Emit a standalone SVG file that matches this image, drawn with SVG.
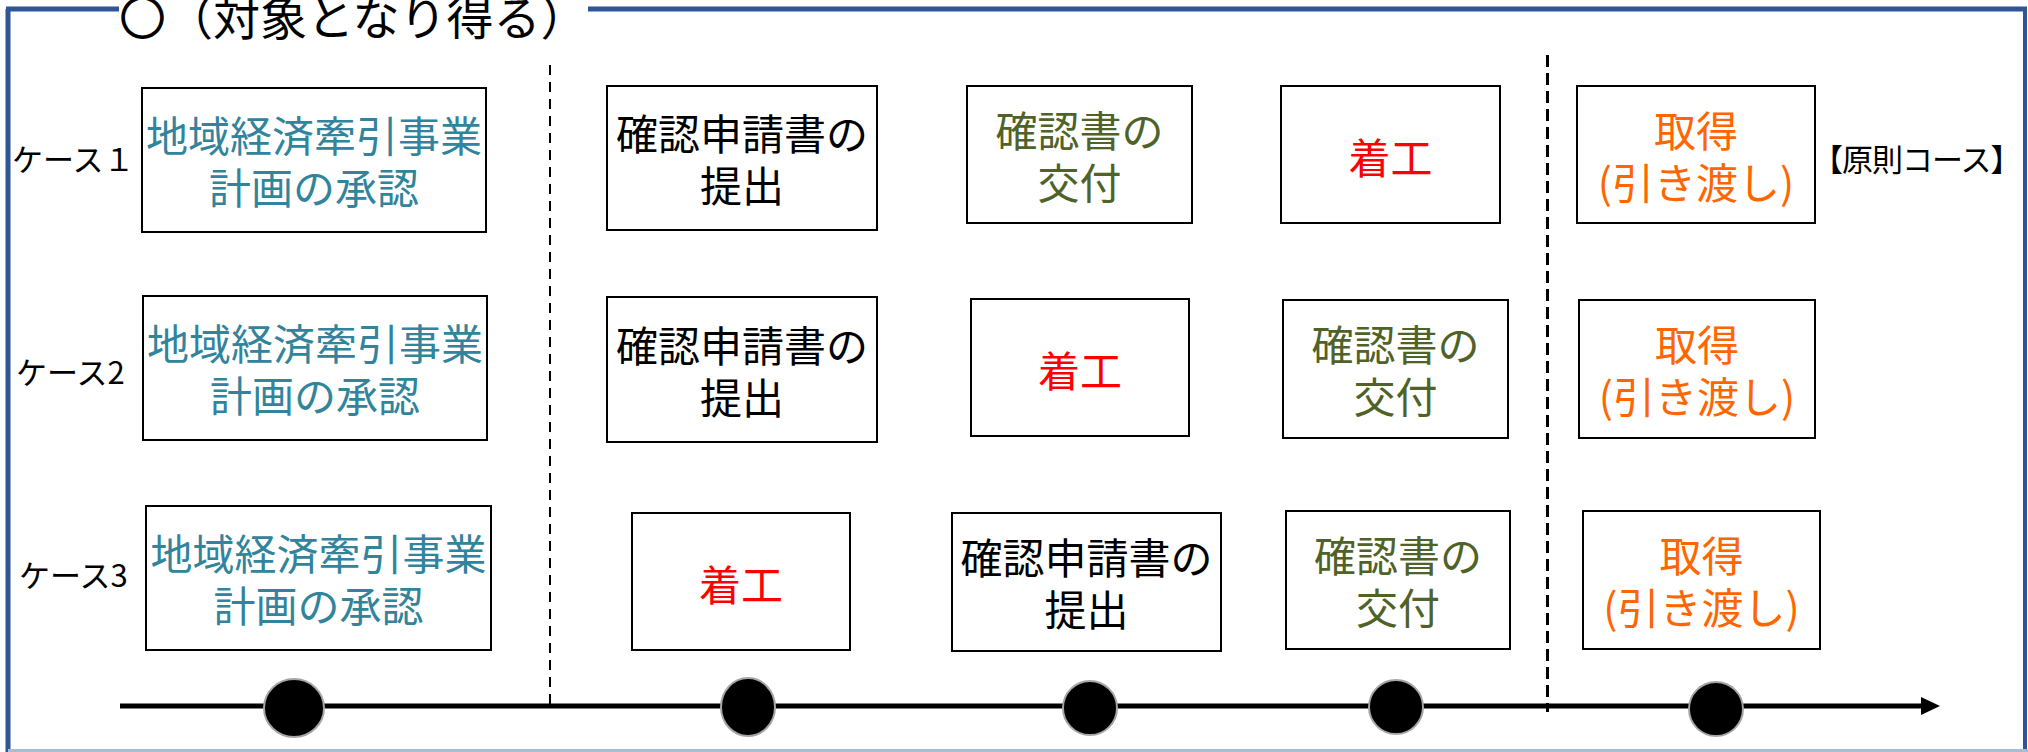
<svg xmlns="http://www.w3.org/2000/svg" width="2028" height="752" viewBox="0 0 2028 752">
<style>
  text { font-family: "Noto Sans CJK JP", "Noto Sans CJK SC", sans-serif; }
  .box { fill: #fff; stroke: #000; stroke-width: 2; }
  .t { font-size: 42px; text-anchor: middle; }
  .case { font-size: 31px; fill: #000; }
  .teal { fill: #31849B; }
  .blk { fill: #000; }
  .olive { fill: #4F6228; }
  .red { fill: #FF0000; }
  .orange { fill: #FF6600; }
  .frame { stroke: #2F5597; stroke-width: 5; fill: none; }
  .dot { fill: #000; stroke: #A6A6A6; stroke-width: 2; }
</style>
<rect width="2028" height="752" fill="#fff"/>
<g id="frame">
  <line class="frame" x1="8" y1="9" x2="8" y2="752"/>
  <line class="frame" x1="6" y1="9" x2="119" y2="9"/>
  <line class="frame" x1="588" y1="9" x2="2027" y2="9"/>
  <line stroke="#2F5597" stroke-width="4" x1="2025" y1="7" x2="2025" y2="752"/>
  <line stroke="#A9BCD6" stroke-width="3" x1="8" y1="750.5" x2="2028" y2="750.5"/>
  <text x="119" y="35" font-size="47" fill="#000">〇（対象となり得る）</text>
</g>
<g id="connectors">
  <line x1="550" y1="65" x2="550" y2="704" stroke="#000" stroke-width="2" stroke-dasharray="10 7"/>
  <line x1="1547.5" y1="55" x2="1547.5" y2="712" stroke="#000" stroke-width="3" stroke-dasharray="12 6"/>
  <line x1="120" y1="706" x2="1926" y2="706" stroke="#000" stroke-width="5"/>
  <polygon points="1921,697 1940,706 1921,715" fill="#000"/>
</g>
<g id="timeline-dots">
  <ellipse class="dot" cx="294" cy="708" rx="30" ry="29"/>
  <ellipse class="dot" cx="748" cy="707" rx="27" ry="29"/>
  <ellipse class="dot" cx="1090" cy="708" rx="27" ry="27"/>
  <ellipse class="dot" cx="1396" cy="707" rx="27" ry="27"/>
  <ellipse class="dot" cx="1716" cy="709" rx="27" ry="27"/>
</g>
<g id="labels">
  <text class="case" x="12" y="171">ケース１</text>
  <text class="case" x="16" y="384">ケース2</text>
  <text class="case" x="19" y="587">ケース3</text>
  <text x="1812" y="171" font-size="31" letter-spacing="-1" fill="#000">【原則コース】</text>
</g>
<g id="case1">
  <g id="n11"><rect class="box" x="142" y="88" width="344" height="144"/>
    <text class="t teal"><tspan x="314" y="152">地域経済牽引事業</tspan><tspan x="314" y="204">計画の承認</tspan></text></g>
  <g id="n12"><rect class="box" x="607" y="86" width="270" height="144"/>
    <text class="t blk"><tspan x="742" y="150">確認申請書の</tspan><tspan x="742" y="202">提出</tspan></text></g>
  <g id="n13"><rect class="box" x="967" y="86" width="225" height="137"/>
    <text class="t olive"><tspan x="1079.5" y="147">確認書の</tspan><tspan x="1079.5" y="199">交付</tspan></text></g>
  <g id="n14"><rect class="box" x="1281" y="86" width="219" height="137"/>
    <text class="t red" x="1390.5" y="174">着工</text></g>
  <g id="n15"><rect class="box" x="1577" y="86" width="238" height="137"/>
    <text class="t orange"><tspan x="1696" y="147">取得</tspan><tspan x="1696" y="199">(引き渡し)</tspan></text></g>
</g>
<g id="case2">
  <g id="n21"><rect class="box" x="143" y="296" width="344" height="144"/>
    <text class="t teal"><tspan x="315" y="360">地域経済牽引事業</tspan><tspan x="315" y="412">計画の承認</tspan></text></g>
  <g id="n22"><rect class="box" x="607" y="297" width="270" height="145"/>
    <text class="t blk"><tspan x="742" y="361.5">確認申請書の</tspan><tspan x="742" y="413.5">提出</tspan></text></g>
  <g id="n23"><rect class="box" x="971" y="299" width="218" height="137"/>
    <text class="t red" x="1080" y="386.5">着工</text></g>
  <g id="n24"><rect class="box" x="1283" y="300" width="225" height="138"/>
    <text class="t olive"><tspan x="1395.5" y="361">確認書の</tspan><tspan x="1395.5" y="413">交付</tspan></text></g>
  <g id="n25"><rect class="box" x="1579" y="300" width="236" height="138"/>
    <text class="t orange"><tspan x="1697" y="361">取得</tspan><tspan x="1697" y="413">(引き渡し)</tspan></text></g>
</g>
<g id="case3">
  <g id="n31"><rect class="box" x="146" y="506" width="345" height="144"/>
    <text class="t teal"><tspan x="318.5" y="570">地域経済牽引事業</tspan><tspan x="318.5" y="622">計画の承認</tspan></text></g>
  <g id="n32"><rect class="box" x="632" y="513" width="218" height="137"/>
    <text class="t red" x="741" y="600.5">着工</text></g>
  <g id="n33"><rect class="box" x="952" y="513" width="269" height="138"/>
    <text class="t blk"><tspan x="1086.5" y="574">確認申請書の</tspan><tspan x="1086.5" y="626">提出</tspan></text></g>
  <g id="n34"><rect class="box" x="1286" y="511" width="224" height="138"/>
    <text class="t olive"><tspan x="1398" y="572">確認書の</tspan><tspan x="1398" y="624">交付</tspan></text></g>
  <g id="n35"><rect class="box" x="1583" y="511" width="237" height="138"/>
    <text class="t orange"><tspan x="1701.5" y="572">取得</tspan><tspan x="1701.5" y="624">(引き渡し)</tspan></text></g>
</g>
</svg>
